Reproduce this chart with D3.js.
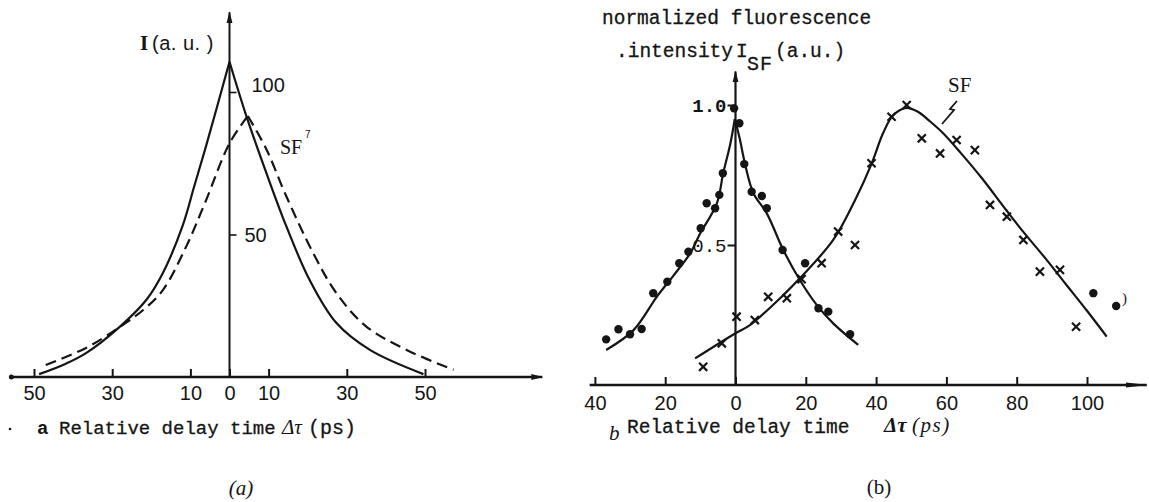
<!DOCTYPE html>
<html>
<head>
<meta charset="utf-8">
<script src="https://cdn.jsdelivr.net/npm/d3@7/dist/d3.min.js"></script>
<style>
  html, body { margin: 0; padding: 0; background: #fff; }
  svg { display: block; }
  .mono { font-family: "Liberation Mono", "DejaVu Sans Mono", monospace; }
  .sans { font-family: "Liberation Sans", Arial, sans-serif; }
  .serif { font-family: "Liberation Serif", "Times New Roman", serif; }
  .heavy { stroke: #151515; stroke-width: 0.3px; }
</style>
</head>
<body>
<svg id="chart" width="1149" height="502"></svg>
<script>
// ---------- Panel (a) data ----------
const aTickValues = [-50, -30, -10, 0, 10, 30, 50];
const aYTickValues = [50, 100];
// pump-probe (solid) curve, left & right of the cusp at 0
const aSolidLeft = [[-48.7, 1.0], [-42, 4.6], [-36.7, 8.4], [-28, 17.7], [-21.3, 27], [-17, 36.6], [-12, 53], [-9, 67], [-6, 81], [0, 110.6]];
const aSolidRight = [[0, 110.6], [4.3, 91.6], [9.4, 71.7], [14.5, 53], [20.5, 34], [27.3, 19], [35.9, 9.5], [49.6, 1.0]];
// SF (dashed) curve, left & right of the peak at ~4.7 ps
const aDashedLeft = [[-47, 4.2], [-36.7, 10.2], [-28, 17.6], [-22, 23.6], [-17, 30.6], [-11, 46], [-6, 62], [0, 82], [4.7, 91.6]];
const aDashedRight = [[4.7, 91.6], [9.4, 80], [14.5, 63.5], [21.4, 43.5], [27.3, 29.5], [35, 17.7], [45.3, 9.5], [57.3, 2.5]];

// ---------- Panel (b) data ----------
const bTickValues = [-40, -20, 0, 20, 40, 60, 80, 100];
const bYTickValues = [0.5, 1.0];
const bDots = [[-36.8, 0.163], [-33.3, 0.199], [-30.0, 0.181], [-26.7, 0.200], [-23.4, 0.328], [-19.4, 0.369],
  [-16.0, 0.435], [-13.4, 0.476], [-9.9, 0.560], [-8.2, 0.649], [-5.8, 0.631], [-4.6, 0.679], [-3.6, 0.756],
  [-0.4, 0.988], [1.1, 0.935], [2.5, 0.789], [4.6, 0.690], [7.5, 0.675], [8.9, 0.631], [13.4, 0.482],
  [19.8, 0.435], [23.6, 0.274], [26.4, 0.262], [32.6, 0.181], [101.8, 0.328], [108.3, 0.282]];
const bDotFitLeft = [[-36.8, 0.125], [-29, 0.196], [-22.4, 0.315], [-17.7, 0.39], [-12.9, 0.47], [-10.1, 0.54], [-5.3, 0.649], [-3.5, 0.756], [-1.5, 0.86], [-0.2, 0.95]];
const bDotFitRight = [[-0.2, 0.95], [1.2, 0.88], [2.7, 0.79], [5.1, 0.685], [8.9, 0.613], [13.6, 0.482], [18.3, 0.375], [23.1, 0.286], [27.8, 0.22], [34.9, 0.143]];
const bCrosses = [[-9.2, 0.065], [-3.9, 0.149], [0.3, 0.244], [5.5, 0.232], [9.3, 0.315], [14.6, 0.31], [18.8, 0.378],
  [24.5, 0.435], [29.2, 0.548], [34.0, 0.5], [38.7, 0.792], [44.4, 0.958], [48.7, 1.0], [53.0, 0.881], [58.2, 0.827],
  [62.9, 0.875], [68.1, 0.839], [72.4, 0.643], [77.2, 0.601], [81.9, 0.518], [86.6, 0.405], [92.3, 0.411], [96.9, 0.208]];
const bCrossFit = [[-11.5, 0.095], [0, 0.185], [4.1, 0.214], [13.6, 0.321], [18.3, 0.381], [27.8, 0.518], [34, 0.66],
  [38.7, 0.79], [42, 0.9], [44.9, 0.964], [48.7, 0.99], [52, 0.975], [55, 0.945], [59, 0.9], [64, 0.83], [70, 0.74],
  [77, 0.625], [82, 0.545], [88, 0.455], [94, 0.36], [100, 0.265], [105.6, 0.173]];

const INK = "#151515";
const svg = d3.select("#chart");
svg.append("rect").attr("width", 1149).attr("height", 502).attr("fill", "#fff");

const defs = svg.append("defs");
defs.append("marker").attr("id", "arrow").attr("viewBox", "0 0 12 8")
  .attr("refX", 11).attr("refY", 4).attr("markerWidth", 12).attr("markerHeight", 8)
  .attr("markerUnits", "userSpaceOnUse").attr("orient", "auto")
  .append("path").attr("d", "M0,1 L12,4 L0,7 Z").attr("fill", INK);
defs.append("marker").attr("id", "arrowLong").attr("viewBox", "0 0 22 8")
  .attr("refX", 21).attr("refY", 4).attr("markerWidth", 22).attr("markerHeight", 8)
  .attr("markerUnits", "userSpaceOnUse").attr("orient", "auto")
  .append("path").attr("d", "M0,1.5 L22,4 L0,6.5 Z").attr("fill", INK);

// ================= Panel (a) =================
const xA = d3.scaleLinear().domain([-50, 50]).range([34, 425]);
const yA = d3.scaleLinear().domain([0, 100]).range([377, 92]);
const gA = svg.append("g");

gA.append("line").attr("x1", xA(-55.8)).attr("x2", xA(80)).attr("y1", yA(0)).attr("y2", yA(0))
  .attr("stroke", INK).attr("stroke-width", 2.6).attr("marker-end", "url(#arrow)");
gA.append("circle").attr("cx", xA(-55.8)).attr("cy", yA(0)).attr("r", 2.5).attr("fill", INK);
gA.append("line").attr("x1", xA(0)).attr("x2", xA(0)).attr("y1", yA(0)).attr("y2", yA(128))
  .attr("stroke", INK).attr("stroke-width", 2).attr("marker-end", "url(#arrow)");

const axA = gA.append("g").attr("transform", `translate(0,${yA(0)})`)
  .call(d3.axisBottom(xA).tickValues(aTickValues).tickFormat(d => Math.abs(d))
    .tickSizeInner(-8).tickSizeOuter(0).tickPadding(9));
axA.select(".domain").remove();
axA.selectAll(".tick line").attr("stroke", INK).attr("stroke-width", 2);
axA.selectAll(".tick text").attr("class", "sans").attr("font-size", 20).attr("fill", INK);

const ayA = gA.append("g").attr("transform", `translate(${xA(0)},0)`)
  .call(d3.axisRight(yA).tickValues(aYTickValues).tickSize(7).tickPadding(8));
ayA.select(".domain").remove();
ayA.selectAll(".tick line").attr("stroke", INK).attr("stroke-width", 1.6);
ayA.selectAll(".tick text").attr("class", "sans").attr("font-size", 20).attr("fill", INK)
  .attr("x", d => d === 100 ? 22 : 15).attr("dy", d => d === 100 ? "-0.05em" : "0.35em");

const lineA = d3.line().x(d => xA(d[0])).y(d => yA(d[1])).curve(d3.curveCatmullRom.alpha(0.5));
[aSolidLeft, aSolidRight].forEach(s => gA.append("path").attr("d", lineA(s))
  .attr("fill", "none").attr("stroke", INK).attr("stroke-width", 2.2));
[aDashedLeft, aDashedRight].forEach(s => gA.append("path").attr("d", lineA(s))
  .attr("fill", "none").attr("stroke", INK).attr("stroke-width", 2.2).attr("stroke-dasharray", "11,6"));

// labels (a)
gA.append("text").attr("x", 140).attr("y", 50).attr("class", "serif").attr("font-size", 21)
  .attr("font-weight", "bold").attr("fill", INK).text("I");
gA.append("text").attr("x", 152).attr("y", 50).attr("class", "sans").attr("font-size", 20)
  .attr("letter-spacing", 0.5).attr("fill", INK).text("(a. u. )");
gA.append("text").attr("x", 280).attr("y", 154).attr("class", "serif").attr("font-size", 20)
  .attr("fill", INK).text("SF");
gA.append("text").attr("x", 305).attr("y", 138).attr("class", "sans").attr("font-size", 10)
  .attr("fill", INK).text("7");
gA.append("circle").attr("cx", 10).attr("cy", 429).attr("r", 1.3).attr("fill", INK);
gA.append("text").attr("x", 37).attr("y", 434).attr("class", "mono").attr("font-size", 19)
  .attr("font-weight", "bold").attr("fill", INK).text("a");
gA.append("text").attr("x", 59).attr("y", 434).attr("class", "mono heavy").attr("font-size", 19)
  .attr("fill", INK).text("Relative delay time");
gA.append("text").attr("x", 282).attr("y", 434).attr("class", "serif").attr("font-size", 21)
  .attr("font-style", "italic").attr("fill", INK).text("Δτ");
gA.append("text").attr("x", 308).attr("y", 434).attr("class", "mono heavy").attr("font-size", 20)
  .attr("fill", INK).text("(ps)");
gA.append("text").attr("x", 241).attr("y", 495).attr("class", "serif").attr("font-size", 21)
  .attr("font-style", "italic").attr("text-anchor", "middle").attr("fill", INK).text("(a)");

// ================= Panel (b) =================
const xB = d3.scaleLinear().domain([-40, 100]).range([594.9, 1087]);
const yB = d3.scaleLinear().domain([0, 1]).range([385, 105]);
const gB = svg.append("g");

gB.append("line").attr("x1", xB(-41.5)).attr("x2", xB(117)).attr("y1", yB(0)).attr("y2", yB(0))
  .attr("stroke", INK).attr("stroke-width", 2.6).attr("marker-end", "url(#arrowLong)");
gB.append("line").attr("x1", xB(0)).attr("x2", xB(0)).attr("y1", yB(0)).attr("y2", yB(1.12))
  .attr("stroke", INK).attr("stroke-width", 2.2).attr("marker-end", "url(#arrow)");

const axB = gB.append("g").attr("transform", `translate(0,${yB(0)})`)
  .call(d3.axisBottom(xB).tickValues(bTickValues).tickFormat(d => Math.abs(d))
    .tickSizeInner(-8).tickSizeOuter(0).tickPadding(11));
axB.select(".domain").remove();
axB.selectAll(".tick line").attr("stroke", INK).attr("stroke-width", 2);
axB.selectAll(".tick text").attr("class", "sans").attr("font-size", 20).attr("fill", INK);

const ayB = gB.append("g").attr("transform", `translate(${xB(0)},0)`)
  .call(d3.axisLeft(yB).tickValues(bYTickValues).tickFormat(d3.format(".1f")).tickSize(8).tickPadding(1));
ayB.select(".domain").remove();
ayB.selectAll(".tick line").attr("stroke", INK).attr("stroke-width", 2);
ayB.selectAll(".tick text").attr("class", "mono").attr("font-size", 19).attr("fill", INK)
  .attr("font-weight", d => d === 1 ? "bold" : "normal");

const lineB = d3.line().x(d => xB(d[0])).y(d => yB(d[1])).curve(d3.curveCatmullRom.alpha(0.5));
[bDotFitLeft, bDotFitRight, bCrossFit].forEach(s => gB.append("path").attr("d", lineB(s))
  .attr("fill", "none").attr("stroke", INK).attr("stroke-width", 2.2));

gB.selectAll("circle.dot").data(bDots).join("circle").attr("class", "dot")
  .attr("cx", d => xB(d[0])).attr("cy", d => yB(d[1])).attr("r", 4.2).attr("fill", INK);
gB.selectAll("path.cross").data(bCrosses).join("path").attr("class", "cross")
  .attr("transform", d => `translate(${xB(d[0])},${yB(d[1])})`)
  .attr("d", d3.symbol(d3.symbolTimes, 45)).attr("fill", "none").attr("stroke", INK).attr("stroke-width", 2.2);

// labels (b)
gB.append("text").attr("x", 602).attr("y", 24).attr("class", "mono heavy").attr("font-size", 19.5)
  .attr("fill", INK).text("normalized fluorescence");
gB.append("text").attr("x", 616).attr("y", 57).attr("class", "mono heavy").attr("font-size", 19.5)
  .attr("fill", INK).text(".intensity");
gB.append("text").attr("x", 736).attr("y", 57).attr("class", "mono heavy").attr("font-size", 19.5)
  .attr("fill", INK).text("I");
gB.append("text").attr("x", 747).attr("y", 70).attr("class", "mono heavy").attr("font-size", 20)
  .attr("letter-spacing", 1).attr("fill", INK).text("SF");
gB.append("text").attr("x", 775).attr("y", 57).attr("class", "mono heavy").attr("font-size", 19.5)
  .attr("fill", INK).text("(a.u.)");

const sfX = 948, sfY = 92;
gB.append("text").attr("x", sfX).attr("y", sfY).attr("class", "serif").attr("font-size", 21)
  .attr("fill", INK).text("SF");
const bolt = d3.path();
bolt.moveTo(sfX + 9, sfY + 9); bolt.lineTo(sfX + 2, sfY + 17); bolt.lineTo(sfX + 6, sfY + 18); bolt.lineTo(sfX - 6, sfY + 32);
gB.append("path").attr("d", bolt.toString()).attr("fill", "none").attr("stroke", INK).attr("stroke-width", 1.8);
gB.append("text").attr("x", 1122).attr("y", 303).attr("class", "serif").attr("font-size", 15)
  .attr("fill", INK).text(")");

gB.append("text").attr("x", 609).attr("y", 440).attr("class", "serif").attr("font-size", 21)
  .attr("font-style", "italic").attr("fill", INK).text("b");
gB.append("text").attr("x", 627).attr("y", 433).attr("class", "mono heavy").attr("font-size", 19.5)
  .attr("fill", INK).text("Relative delay time");
gB.append("text").attr("x", 884).attr("y", 432).attr("class", "serif").attr("font-size", 21)
  .attr("font-style", "italic").attr("font-weight", "bold").attr("fill", INK).text("Δτ");
gB.append("text").attr("x", 912).attr("y", 432).attr("class", "serif").attr("font-size", 21)
  .attr("font-style", "italic").attr("letter-spacing", 1.5).attr("fill", INK).text("(ps)");
gB.append("text").attr("x", 879).attr("y", 494).attr("class", "serif").attr("font-size", 21)
  .attr("text-anchor", "middle").attr("fill", INK).text("(b)");
</script>
</body>
</html>
